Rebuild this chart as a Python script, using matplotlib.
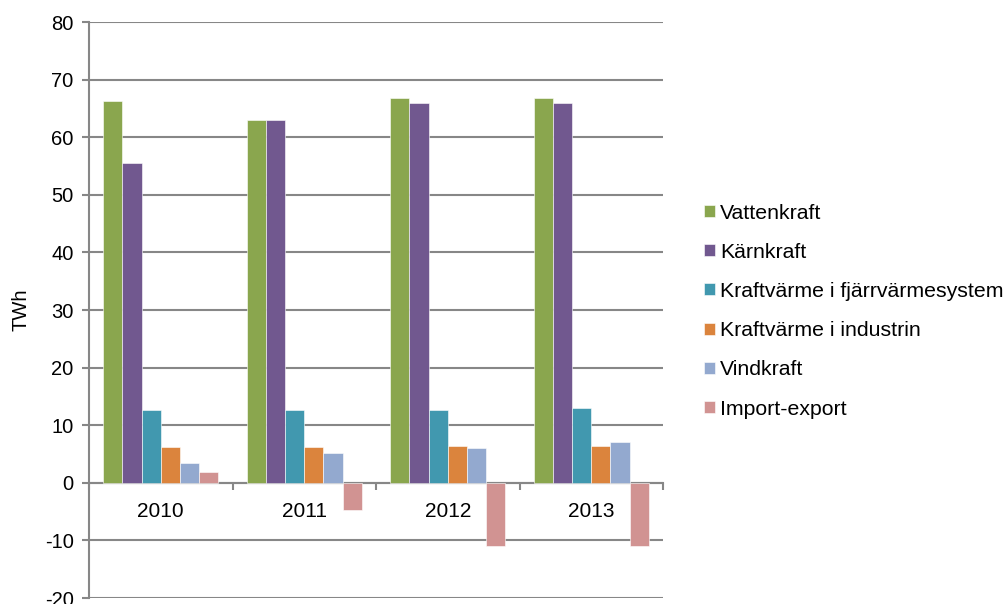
import matplotlib
matplotlib.use("Agg")
import matplotlib.pyplot as plt
import numpy as np

plt.rcParams['font.family'] = ['Liberation Sans', 'DejaVu Sans']
plt.rcParams['axes.unicode_minus'] = False

years = ['2010', '2011', '2012', '2013']
series = ['Vattenkraft', 'Kärnkraft', 'Kraftvärme i fjärrvärmesystem',
          'Kraftvärme i industrin', 'Vindkraft', 'Import-export']
vattenkraft = [66.2, 62.9, 66.8, 66.8]
karnkraft = [55.6, 63.0, 65.9, 65.9]
fjarrvarme = [12.7, 12.7, 12.7, 12.9]
industri = [6.2, 6.3, 6.4, 6.4]
vindkraft = [3.4, 5.2, 6.1, 7.1]
import_export = [1.9, -4.8, -11.0, -11.0]
colors = ['#8aa64e', '#71588f', '#4198af', '#db843d', '#93a9cf', '#d19392']

values = [vattenkraft, karnkraft, fjarrvarme, industri, vindkraft, import_export]

fig = plt.figure(figsize=(10.06, 6.04), dpi=100)
ax = fig.add_axes([89 / 1006, 6 / 604, 574 / 1006, 576 / 604])

x = np.arange(len(years))
w = 0.8 / len(series)
for j, (name, vals) in enumerate(zip(series, values)):
    ax.bar(x + (j - 2.5) * w, vals, width=w, color=colors[j], label=name,
           edgecolor='white', linewidth=0.4, zorder=3)

gray = '#878787'
ax.set_ylim(-20, 80)
ax.set_xlim(-0.5, 3.5)
ax.set_yticks(range(-20, 81, 10))
ax.yaxis.grid(True, color=gray, linewidth=1.5, zorder=0)
ax.tick_params(axis='y', direction='out', length=5, width=1.5, color=gray,
               labelsize=14.5, pad=6)

# category axis along zero line
ax.spines['bottom'].set_position(('data', 0))
ax.spines['bottom'].set_color(gray)
ax.spines['bottom'].set_linewidth(1.5)
ax.set_xticks(np.arange(-0.5, 4, 1))
ax.set_xticklabels([])
ax.set_xticks(x, minor=True)
ax.set_xticklabels(years, minor=True)
ax.tick_params(axis='x', which='major', direction='out', length=5, width=1.5, color=gray)
ax.tick_params(axis='x', which='minor', length=0, labelsize=15, pad=14)

ax.spines['left'].set_color(gray)
ax.spines['left'].set_linewidth(1.5)
ax.spines['top'].set_visible(False)
ax.spines['right'].set_visible(False)

ax.set_ylabel('TWh', fontsize=14.5, labelpad=10)

ax.legend(loc='center left', bbox_to_anchor=(704 / 1006, 0.485),
          bbox_transform=fig.transFigure, frameon=False, fontsize=15.3,
          handlelength=0.5, handleheight=0.5, handletextpad=0.25,
          labelspacing=0.95, borderpad=0, borderaxespad=0)

fig.savefig('out.png', dpi=100)
